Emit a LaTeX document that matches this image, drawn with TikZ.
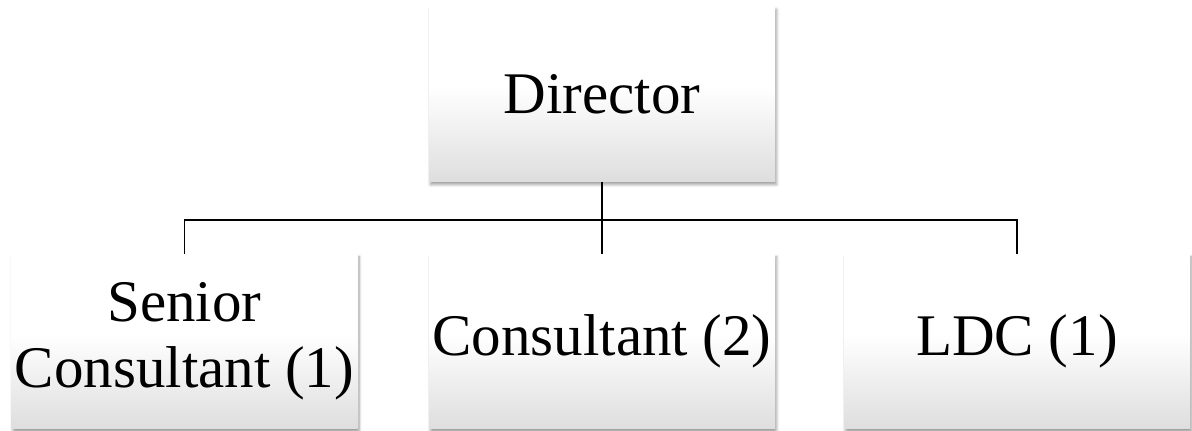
\documentclass[tikz,border=0pt]{standalone}
\usepackage[rgb]{xcolor}
\usepackage{fontspec}
\setmainfont{Liberation Serif}
\usetikzlibrary{shadows.blur}

\pgfdeclareverticalshading{boxfade}{100bp}{color(0bp)=(black!13); color(25bp)=(black!13);
  color(52bp)=(white); color(75bp)=(white); color(100bp)=(white)}

\tikzset{
  postbox/.style={rectangle, minimum width=346pt, minimum height=175pt, inner sep=0pt,
    align=center, font=\fontsize{59}{66}\selectfont,
    shading=boxfade,
    blur shadow={shadow xshift=1.5pt, shadow yshift=-3pt, shadow blur steps=6, shadow blur radius=3pt}},
  tie/.style={black, line width=1.6pt}
}

\begin{document}
\begin{tikzpicture}[x=1pt, y=1pt]
\useasboundingbox (0,0) rectangle (1192,431);

% top of the chart
\path
(602,337) node[postbox](director) {Director};

% staff boxes
\path
(184.5,89.5) node[postbox](senior) {Senior\\Consultant (1)}
(602,89.5) node[postbox](consultant) {Consultant (2)}
(1017,89.5) node[postbox](ldc) {LDC (1)};

%% connectors
\coordinate (bus) at (602,211);
\draw[tie] (director.south) -- (bus);
\draw[tie] (senior.north) |- (bus) -| (ldc.north);
\draw[tie] (bus) -- (consultant.north);

\end{tikzpicture}
\end{document}
